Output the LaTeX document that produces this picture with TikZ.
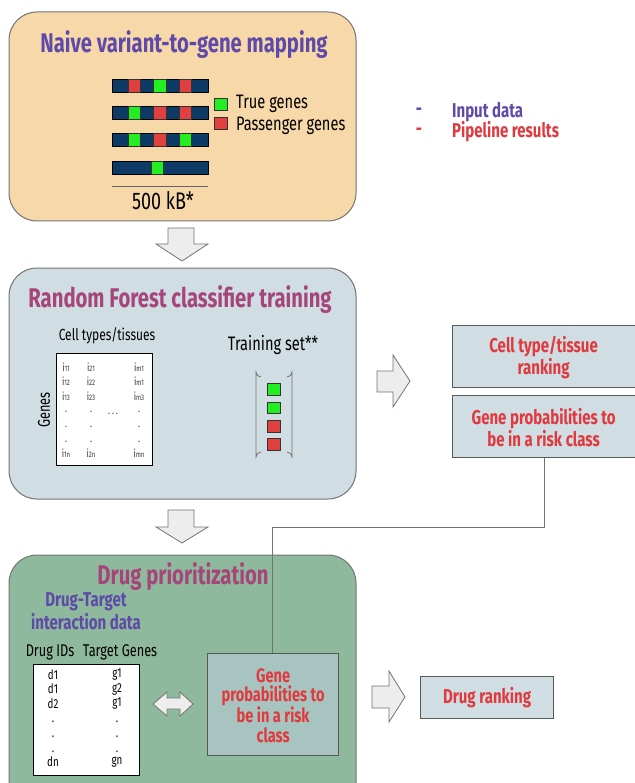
\documentclass[tikz,border=0pt]{standalone}
\usepackage{fontspec}
\setmainfont{Fira Sans}[FakeStretch=0.75]
\definecolor{tanfill}{HTML}{F7D8A9}
\definecolor{bluefill}{HTML}{D0DDE3}
\definecolor{greenfill}{HTML}{8EB99C}
\definecolor{genefill}{HTML}{A8C4C0}
\definecolor{purp}{HTML}{5E4AA8}
\definecolor{mag}{HTML}{A6457A}
\definecolor{redt}{HTML}{E0393E}
\definecolor{navy}{HTML}{0D3B66}
\definecolor{gred}{HTML}{E04040}
\definecolor{ggreen}{HTML}{22EE22}
\newcommand{\fsz}[1]{\fontsize{#1}{#1}\selectfont}
\newcommand{\mi}[1]{i{\fontsize{8}{8}\selectfont #1}}
\begin{document}
\begin{tikzpicture}[x=1pt,y=-1pt,
  bigbox/.style={draw=black!55, line width=1pt, rounded corners=28pt},
  resbox/.style={draw=black!65, line width=1.2pt, fill=bluefill},
  blockarrow/.style={draw=black!55, fill=black!7, line width=0.8pt, line join=miter},
  chrom/.style={draw=black, fill=navy, line width=0.6pt},
  gene/.style={draw=black!80, line width=0.6pt},
  title/.style={font=\bfseries\fsz{27}, inner sep=0pt},
  lbl/.style={font=\fsz{19.5}, inner sep=0pt},
  redlbl/.style={font=\bfseries\fsz{20}, text=redt, align=center, inner sep=0pt},
  cell/.style={font=\fsz{11}, inner sep=0pt, text=black!80},
  tcell/.style={font=\fsz{13}, inner sep=0pt},
  tdot/.style={font=\fsz{13}, inner sep=0pt, anchor=base}
]
\useasboundingbox (0,0) rectangle (634,783);

% ---------- Box 1 ----------
\draw[bigbox, fill=tanfill] (9,12) rectangle (356,221);
\node[title, text=purp] (t1) at (184,45) {Naive variant-to-gene mapping};
% chromosome bars
\foreach \y in {79,106,133,161}{
  \draw[chrom] (112,\y) rectangle (208,\y+13);
}
% genes row 1
\draw[gene, fill=gred] (128,79) rectangle (140,92);
\draw[gene, fill=ggreen] (153,79) rectangle (166,92);
\draw[gene, fill=gred] (179,79) rectangle (191,92);
% row 2
\draw[gene, fill=ggreen] (128,106) rectangle (140,119);
\draw[gene, fill=gred] (153,106) rectangle (166,119);
\draw[gene, fill=gred] (179,106) rectangle (191,119);
% row 3
\draw[gene, fill=ggreen] (128,133) rectangle (140,146);
\draw[gene, fill=gred] (153,133) rectangle (166,146);
\draw[gene, fill=ggreen] (179,133) rectangle (191,146);
% row 4
\draw[gene, fill=ggreen] (151,161) rectangle (163,174);
% legend
\draw[gene, fill=ggreen] (214,98) rectangle (227,110);
\draw[gene, fill=gred] (214,117) rectangle (227,129);
\node[lbl, anchor=west] (tg) at (236,104) {True genes};
\node[lbl, anchor=west] (pg) at (236,126) {Passenger genes};
\draw[black!60, line width=0.8pt] (112,186) -- (208,186);
\node[lbl, font=\fsz{24}] (kb) at (163,201) {500 kB*};

% legend right
\node[font=\bfseries\fsz{20}, text=purp, inner sep=0pt] (d1) at (419,112) {-};
\node[font=\bfseries\fsz{20}, text=purp, inner sep=0pt, anchor=west] (inp) at (452,112) {Input data};
\node[font=\bfseries\fsz{20}, text=redt, inner sep=0pt] (d2) at (419,132) {-};
\node[font=\bfseries\fsz{20}, text=redt, inner sep=0pt, anchor=west] (pip) at (452,132) {Pipeline results};

% down arrow 1
\draw[blockarrow] (168,228) -- (194,228) -- (194,244) -- (208,244) -- (182,261) -- (156,244) -- (168,244) -- cycle;

% ---------- Box 2 ----------
\draw[bigbox, fill=bluefill] (9,268) rectangle (356,499);
\node[title, text=mag] (t2) at (180,300) {Random Forest classifier training};
\node[font=\fsz{16}, inner sep=0pt] (ct) at (107,336) {Cell types/tissues};
\node[font=\fsz{17}, inner sep=0pt, rotate=90] (gn) at (44,410) {Genes};
\draw[black, line width=1pt, fill=white] (56,353) rectangle (152,465);
\node[cell] at (66,367) {\mi{11}};
\node[cell] at (91,367) {\mi{21}};
\node[cell] at (139,367) {\mi{m1}};
\node[cell] at (66,381) {\mi{12}};
\node[cell] at (91,381) {\mi{22}};
\node[cell] at (139,381) {\mi{m1}};
\node[cell] at (66,396) {\mi{13}};
\node[cell] at (91,396) {\mi{23}};
\node[cell] at (139,396) {\mi{m3}};
\foreach \yy in {412,427,442}{
  \node[cell, anchor=base] at (66,\yy) {.};
  \node[cell, anchor=base] at (91,\yy) {.};
  \node[cell, anchor=base] at (139,\yy) {.};
}
\node[cell, anchor=base] at (113,414) {.\,.\,.};
\node[cell] at (66,453) {\mi{1n}};
\node[cell] at (91,453) {\mi{2n}};
\node[cell] at (139,453) {\mi{mn}};
\node[font=\fsz{19.5}, inner sep=0pt] (ts) at (273,345) {Training set**};
% bracket
\draw[black!55, line width=0.8pt] (261,377) arc[start angle=90,end angle=180,radius=5] -- (256,457) arc[start angle=180,end angle=270,radius=5];
\draw[black!55, line width=0.8pt] (287,377) arc[start angle=90,end angle=0,radius=5] -- (292,457) arc[start angle=0,end angle=-90,radius=5];
\draw[gene, fill=ggreen] (267,383) rectangle (280,395);
\draw[gene, fill=ggreen] (267,402) rectangle (280,413);
\draw[gene, fill=gred] (267,420) rectangle (280,432);
\draw[gene, fill=gred] (267,438) rectangle (280,450);

% right arrow 2
\draw[blockarrow] (377,371) -- (393,371) -- (393,355) -- (410,381) -- (393,407) -- (393,392) -- (377,392) -- cycle;

% result boxes
\node[resbox, minimum width=190pt, minimum height=62pt, anchor=north west, inner sep=0pt] (ctr) at (452,325) {};
\node[redlbl] at ([xshift=-4pt,yshift=-1pt]ctr.center) {Cell type/tissue\\ranking};
\node[resbox, minimum width=190pt, minimum height=62pt, anchor=north west, inner sep=0pt] (gp) at (452,395) {};
\node[redlbl] at ([xshift=-4pt,yshift=-1pt]gp.center) {Gene probabilities to\\be in a risk class};

% down arrow 2
\draw[blockarrow] (168,510) -- (194,510) -- (194,527) -- (208,527) -- (182,543) -- (156,527) -- (168,527) -- cycle;

% ---------- Box 3 ----------
\draw[bigbox, fill=greenfill] (9,555) rectangle (356,812);
\node[title, text=mag] (t3) at (183,577) {Drug prioritization};
\node[font=\bfseries\fsz{20}, text=purp, inner sep=0pt] (dt1) at (86,602) {Drug-Target};
\node[font=\bfseries\fsz{20}, text=purp, inner sep=0pt] (dt2) at (86,622) {interaction data};
\node[font=\fsz{17}, inner sep=0pt] (did) at (50,652) {Drug IDs};
\node[font=\fsz{17}, inner sep=0pt] (tgn) at (120,652) {Target Genes};
\draw[black, line width=1pt, fill=white] (33,664) rectangle (139,775);
\foreach \yy/\dd/\gg in {675/d1/g1,689/d1/g2,704/d2/g1,762/dn/gn}{
  \node[tcell] at (53,\yy) {\dd};
  \node[tcell] at (117,\yy) {\gg};
}
\foreach \yy in {722,737,752}{
  \node[tdot] at (53,\yy) {.};
  \node[tdot] at (117,\yy) {.};
}
% double arrow
\draw[blockarrow] (153,704) -- (167,692) -- (167,698) -- (180,698) -- (180,692) -- (193,704) -- (180,716) -- (180,709) -- (167,709) -- (167,716) -- cycle;
% gene prob box
\node[draw=black!65, line width=1.2pt, fill=genefill, minimum width=131pt, minimum height=102pt, anchor=north west, inner sep=0pt] (gp2) at (207,653) {};
\node[redlbl, font=\bfseries\fsz{19.5}] at ([yshift=-1pt]gp2.center) {Gene\\probabilities to\\be in a risk\\class};
% connector
\draw[black!55, line width=1pt] (gp.south -| 544,0) |- (272,527) -- (gp2.north -| 272,0);

% right arrow 3
\draw[blockarrow] (372,686) -- (389,686) -- (389,671) -- (405,697) -- (389,722) -- (389,708) -- (372,708) -- cycle;
\node[resbox, minimum width=133pt, minimum height=42pt, anchor=north west, inner sep=0pt] (dr) at (420,676) {};
\node[redlbl, font=\bfseries\fsz{20}] at (dr.center) {Drug ranking};
\end{tikzpicture}
\end{document}
